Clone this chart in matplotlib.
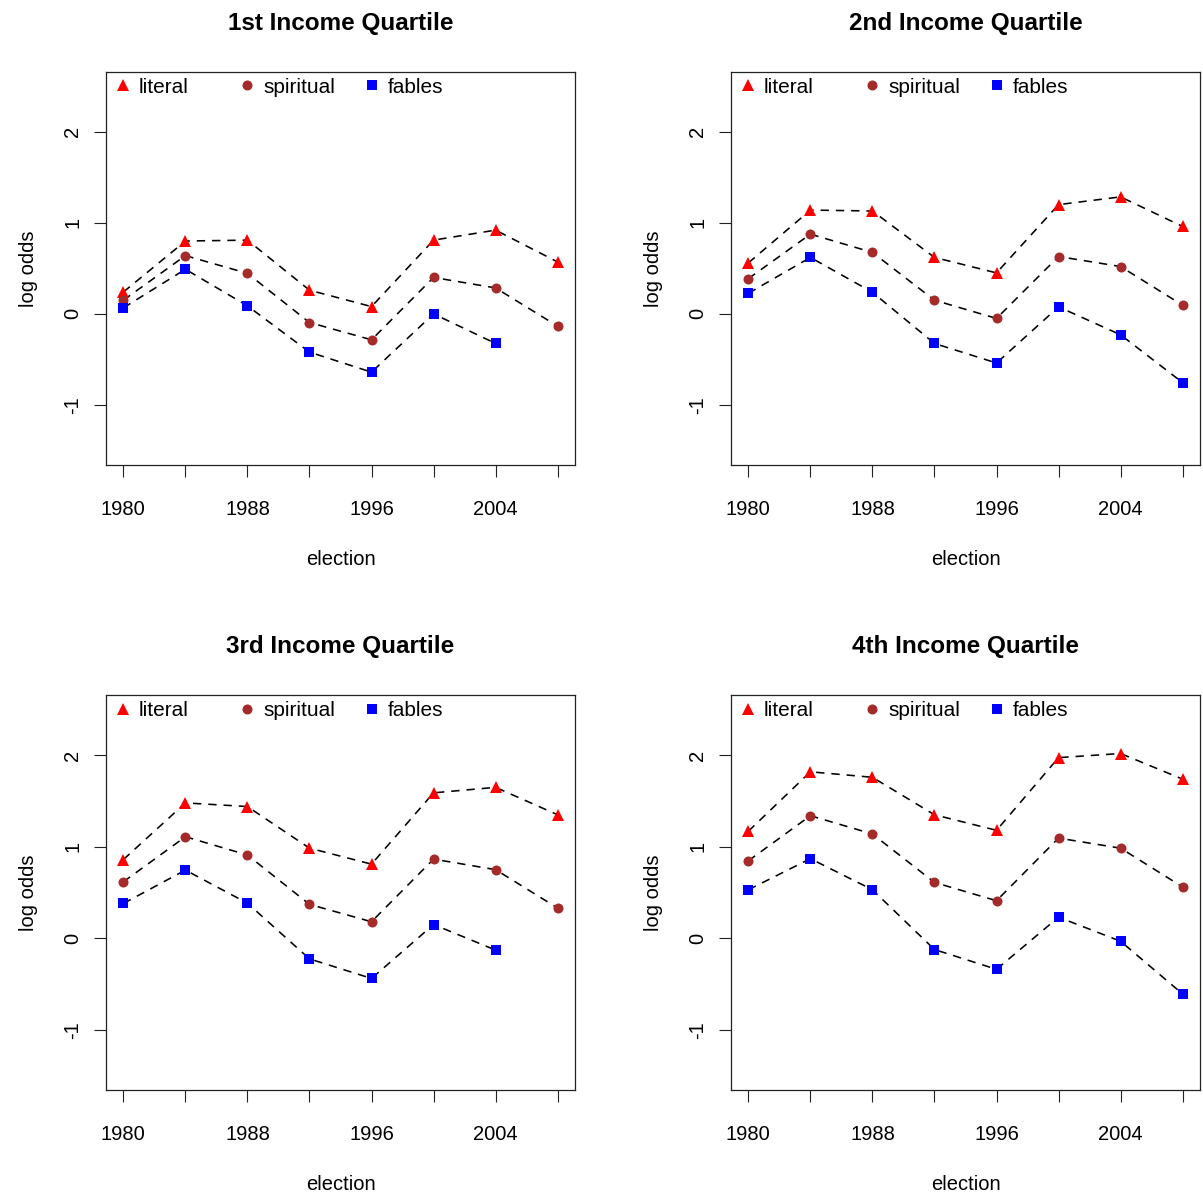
import numpy as np
import matplotlib.pyplot as plt

plt.rcParams['font.family'] = ['Liberation Sans', 'DejaVu Sans']
plt.rcParams['lines.scale_dashes'] = False

years = [1980, 1984, 1988, 1992, 1996, 2000, 2004, 2008]
titles = ['1st Income Quartile', '2nd Income Quartile',
          '3rd Income Quartile', '4th Income Quartile']

# log odds, one list per quartile
literal = [
    [0.24, 0.80, 0.81, 0.26, 0.08, 0.81, 0.92, 0.57],
    [0.56, 1.14, 1.13, 0.62, 0.45, 1.20, 1.285, 0.96],
    [0.86, 1.48, 1.44, 0.985, 0.81, 1.59, 1.65, 1.35],
    [1.17, 1.82, 1.76, 1.35, 1.18, 1.975, 2.02, 1.74],
]
spiritual = [
    [0.15, 0.64, 0.445, -0.095, -0.285, 0.40, 0.285, -0.135],
    [0.387, 0.876, 0.675, 0.15, -0.05, 0.63, 0.52, 0.095],
    [0.617, 1.11, 0.91, 0.37, 0.18, 0.865, 0.75, 0.33],
    [0.847, 1.34, 1.14, 0.61, 0.41, 1.095, 0.985, 0.56],
]
fables = [
    [0.066, 0.49, 0.088, -0.42, -0.64, 0.0, -0.325, np.nan],
    [0.226, 0.62, 0.237, -0.325, -0.54, 0.077, -0.23, -0.755],
    [0.38, 0.745, 0.383, -0.226, -0.44, 0.15, -0.13, np.nan],
    [0.53, 0.87, 0.53, -0.124, -0.34, 0.23, -0.033, -0.61],
]

series = [('literal', literal, 'red', '^', 8.6),
          ('spiritual', spiritual, '#A52A2A', 'o', 7.2),
          ('fables', fables, 'blue', 's', 6.8)]

W, H = 1203, 1193
fig = plt.figure(figsize=(W / 100, H / 100), dpi=100)

# axes boxes in pixels: left, top, right, bottom
boxes = [(106, 71.7, 575, 465), (731, 71.7, 1200, 465),
         (106, 695, 575, 1090), (731, 695, 1200, 1090)]

leg_x = [0.0355, 0.3006, 0.5665]

for i, (l, t, r, b) in enumerate(boxes):
    ax = fig.add_axes([l / W, 1 - b / H, (r - l) / W, (b - t) / H])
    for name, data, col, mk, ms in series:
        y = np.array(data[i], dtype=float)
        ok = ~np.isnan(y)
        xs = np.array(years)[ok]
        ax.plot(xs, y[ok], color='black', lw=1.15, dashes=(6, 5), zorder=2)
        ax.plot(xs, y[ok], ls='none', marker=mk, ms=ms, color=col,
                markeredgewidth=0, zorder=3)

    ax.set_xlim(1978.88, 2009.12)
    ax.set_ylim(-1.66, 2.66)
    ax.set_xticks(years)
    ax.set_xticklabels([str(yr) if k % 2 == 0 else '' for k, yr in enumerate(years)])
    ax.set_yticks([-1, 0, 1, 2])
    ax.set_yticklabels(['-1', '0', '1', '2'], rotation=90, va='center')
    ax.tick_params(axis='both', direction='out', length=8.6, width=0.8,
                   labelsize=14.5, color='#222222')
    ax.tick_params(axis='x', pad=16.5)
    ax.tick_params(axis='y', pad=8.5)
    for sp in ax.spines.values():
        sp.set_linewidth(0.9)
        sp.set_color('#222222')

    ax.set_xlabel('election', fontsize=14.5)
    ax.xaxis.label.set_verticalalignment('center')
    ax.xaxis.set_label_coords(0.5, -0.240)
    ax.set_ylabel('log odds', fontsize=14.5)
    ax.yaxis.label.set_verticalalignment('center')
    ax.yaxis.set_label_coords(-0.166, 0.5)

    ax.text(0.5, 1.122, titles[i], transform=ax.transAxes, ha='center',
            va='center', fontsize=17.5, fontweight='bold')

    # legend across the top, no box
    for (name, data, col, mk, ms), lx in zip(series, leg_x):
        ax.plot([lx], [0.965], transform=ax.transAxes, ls='none', marker=mk,
                ms=ms, color=col, markeredgewidth=0, clip_on=False)
        ax.text(lx + 0.0345, 0.960, name, transform=ax.transAxes,
                ha='left', va='center', fontsize=15)

fig.savefig('out.png', dpi=100)
